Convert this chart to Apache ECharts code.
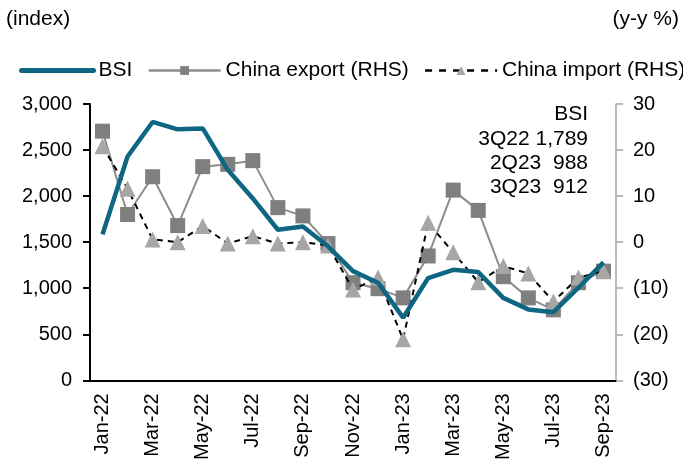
<!DOCTYPE html>
<html>
<head>
<meta charset="utf-8">
<script src="https://cdn.jsdelivr.net/npm/echarts@6/dist/echarts.min.js"></script>
<style>
  html, body { margin: 0; padding: 0; background: #fff; }
  #chart { width: 683px; height: 463px; }
</style>
</head>
<body>
<div id="chart"></div>
<script>
const months = ['Jan-22','Feb-22','Mar-22','Apr-22','May-22','Jun-22','Jul-22','Aug-22','Sep-22','Oct-22','Nov-22','Dec-22',
  'Jan-23','Feb-23','Mar-23','Apr-23','May-23','Jun-23','Jul-23','Aug-23','Sep-23']
const bsi = [1585, 2430, 2805, 2725, 2735, 2285, 1975, 1635, 1670, 1455, 1185, 1060, 680, 1110, 1200, 1175, 895, 770, 740, 1005, 1280]
const chinaExport = [24.1, 6.0, 14.2, 3.6, 16.4, 16.9, 17.7, 7.5, 5.7, -0.3, -8.8, -10.1, -12.1, -3.0, 11.3, 6.9, -7.5, -12.1, -14.7, -8.8, -6.3]
const chinaImport = [20.8, 11.6, 0.6, 0.0, 3.5, -0.3, 1.3, -0.3, 0.0, -0.7, -10.3, -7.7, -21.1, 4.2, -2.2, -8.7, -5.2, -6.8, -12.9, -7.7, -6.3]
const noteLines = ['BSI', '3Q22 1,789', '2Q23  988', '3Q23  912']

const font = 'Liberation Sans, Arial, sans-serif'
const chart = echarts.init(document.getElementById('chart'))

// annotation block, one right-aligned text per line
const notes = noteLines.map((t, i) => ({
  type: 'text', right: 95, top: 104 + i * 24.4,
  style: { text: t, font: '21px ' + font, fill: '#000' }
}))

chart.setOption({
  animation: false,
  textStyle: { fontFamily: font, color: '#000' },
  grid: { left: 90, right: 67, top: 104, bottom: 82 },
  legend: {
    top: 55,
    left: 14,
    width: 760,
    itemWidth: 72,
    itemHeight: 11,
    itemGap: 15,
    textStyle: { fontSize: 21, fontFamily: font, color: '#000' },
    data: [
      { name: 'BSI', itemStyle: { opacity: 0 }, lineStyle: { width: 5, cap: 'round' } },
      { name: 'China export (RHS)', lineStyle: { width: 2.5 } },
      { name: 'China import (RHS)', lineStyle: { width: 2.5, type: [7, 7] } }
    ]
  },
  graphic: [
    { type: 'text', left: 6, top: 9, style: { text: '(index)', font: '21px ' + font, fill: '#000' } },
    { type: 'text', right: 4, top: 9, style: { text: '(y-y %)', font: '21px ' + font, fill: '#000' } }
  ].concat(notes),
  xAxis: {
    type: 'category',
    data: months,
    boundaryGap: true,
    axisLine: { lineStyle: { color: '#000', width: 2 } },
    axisTick: { interval: 1, length: 7, lineStyle: { color: '#000', width: 2 } },
    axisLabel: { interval: 1, rotate: 90, fontSize: 20, color: '#000', margin: 13 }
  },
  yAxis: [
    {
      type: 'value', min: 0, max: 3000, interval: 500,
      axisLine: { show: true, lineStyle: { color: '#000', width: 2 } },
      axisTick: { show: true, length: 7, lineStyle: { color: '#000', width: 2 } },
      splitLine: { show: false },
      axisLabel: { fontSize: 20, color: '#000', margin: 18, formatter: v => v.toLocaleString('en-US') }
    },
    {
      type: 'value', min: -30, max: 30, interval: 10,
      axisLine: { show: true, lineStyle: { color: '#a6a6a6', width: 1.5 } },
      axisTick: { show: true, length: 7, lineStyle: { color: '#a6a6a6', width: 1.5 } },
      splitLine: { show: false },
      axisLabel: { fontSize: 20, color: '#000', margin: 17, formatter: v => v < 0 ? '(' + (-v) + ')' : String(v) }
    }
  ],
  series: [
    {
      name: 'China export (RHS)',
      type: 'line',
      yAxisIndex: 1,
      data: chinaExport,
      symbol: 'rect',
      symbolSize: 15,
      itemStyle: { color: '#7f7f7f' },
      lineStyle: { color: '#8c8c8c', width: 2 },
      z: 2
    },
    {
      name: 'China import (RHS)',
      type: 'line',
      yAxisIndex: 1,
      data: chinaImport,
      symbol: 'triangle',
      symbolSize: 16,
      itemStyle: { color: '#a6a6a6' },
      lineStyle: { color: '#000', width: 2, type: [6, 5] },
      z: 3
    },
    {
      name: 'BSI',
      type: 'line',
      yAxisIndex: 0,
      data: bsi,
      symbol: 'none',
      itemStyle: { color: '#0e6682' },
      lineStyle: { color: '#0e6682', width: 4.5 },
      z: 4
    }
  ]
})
</script>
</body>
</html>
